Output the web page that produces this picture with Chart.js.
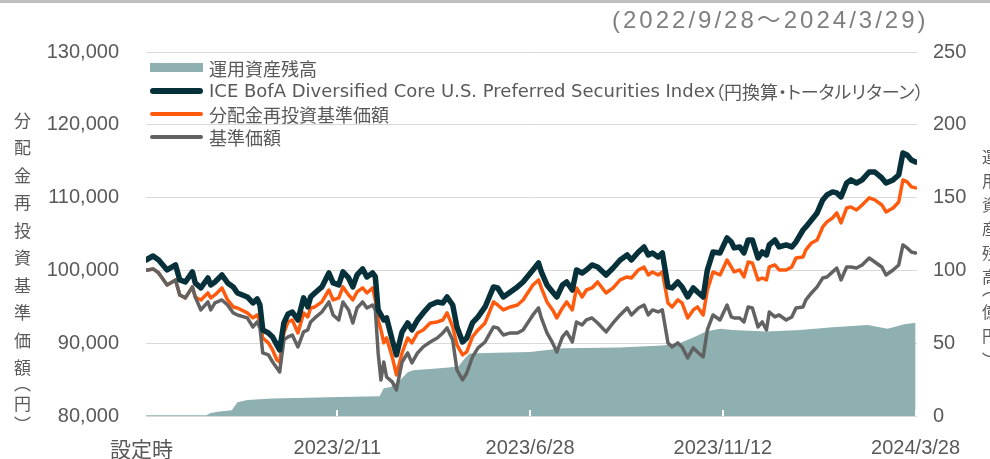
<!DOCTYPE html>
<html lang="ja">
<head>
<meta charset="utf-8">
<script src="https://cdn.jsdelivr.net/npm/chart.js@4.4.1/dist/chart.umd.min.js"></script>
<style>
  html, body { margin: 0; padding: 0; background: #fff; }
  #wrap { position: relative; width: 990px; height: 459px; overflow: hidden; color: #595959;
          font-family: "Noto Sans CJK JP", sans-serif; }
  #chart { position: absolute; left: 0; top: 0; }
  #topbar { position: absolute; left: 0; top: 0; width: 990px; height: 3px; background: #bfbfbf; }
  #period { position: absolute; left: 612px; top: 0px; font-family: "Liberation Sans", "Noto Sans CJK JP", sans-serif;
            font-size: 24px; letter-spacing: 3px; color: #7f7f7f; white-space: nowrap; }
  #start { position: absolute; left: 110px; top: 438px; font-size: 21px; line-height: 21px; color: #595959; }
  .legend { position: absolute; left: 150px; top: 56px; font-size: 18px; }
  .legend .row { display: flex; align-items: center; height: 23px; white-space: nowrap; }
  .legend .sw { width: 53px; margin-right: 6px; flex: none; }
  .legend .lat { font-family: "DejaVu Sans", sans-serif; font-size: 18px; }
  .legend .jp { font-family: "Noto Sans CJK JP", sans-serif; font-size: 18px; font-feature-settings: "palt" 1; }
  .vtitle { position: absolute; writing-mode: vertical-rl; white-space: nowrap; color: #595959; }
</style>
</head>
<body>
<div id="wrap">
  <canvas id="chart" width="990" height="459"></canvas>
  <div id="topbar"></div>
  <div id="period">(2022/9/28～2024/3/29)</div>
  <div id="start">設定時</div>

  <div class="legend">
    <div class="row"><div class="sw" style="height:9px;background:#8fb0b0"></div><span>運用資産残高</span></div>
    <div class="row"><div class="sw" style="height:6px;border-radius:3px;background:#07313a"></div><span class="lat">ICE BofA Diversified Core U.S. Preferred Securities Index</span><span class="jp">（円換算・トータルリターン）</span></div>
    <div class="row"><div class="sw" style="height:4px;border-radius:2px;background:#ff5b0f"></div><span>分配金再投資基準価額</span></div>
    <div class="row"><div class="sw" style="height:4px;border-radius:2px;background:#626262"></div><span>基準価額</span></div>
  </div>

  <div class="vtitle" style="left:10px;top:112px;font-size:17px;letter-spacing:10.5px">分配金再投資基準価額</div>
  <div class="vtitle" style="left:10px;top:383px;font-size:17px;letter-spacing:4px;font-feature-settings:'vpal' 1">（円）</div>
  <div class="vtitle" style="left:978px;top:149px;font-size:16px;letter-spacing:8px">運用資産残高</div>
  <div class="vtitle" style="left:978px;top:288px;font-size:16px;letter-spacing:8px;font-feature-settings:'vpal' 1">（億円）</div>
</div>

<script>
// x axis: days since inception (2022/9/28)
const tickDays = [0, 136, 273, 410, 547];
const tickLabels = ['', '2023/2/11', '2023/6/28', '2023/11/12', '2024/3/28']; // day 0 = 設定時 (html)
const leftTicks = [80000, 90000, 100000, 110000, 120000, 130000];
const rightTicks = [0, 50, 100, 150, 200, 250];

// price series (yen), sampled on the same days
const priceDays = [
  0, 5, 9, 15, 21, 24, 28, 33, 35, 39,
  44, 46, 49, 54, 58, 62, 65, 72, 76, 79,
  81, 83, 87, 90, 93, 95, 98, 101, 104, 108,
  112, 115, 117, 120, 125, 130, 133, 137, 140, 144,
  147, 150, 154, 157, 161, 163, 165, 167, 169, 171,
  175, 178, 182, 186, 189, 193, 197, 202, 207, 211,
  214, 218, 221, 225, 228, 232, 236, 241, 247, 250,
  254, 259, 264, 268, 275, 279, 281, 285, 289, 292,
  296, 299, 303, 306, 310, 313, 317, 321, 327, 332,
  337, 342, 345, 350, 354, 357, 360, 364, 367, 371,
  374, 378, 381, 385, 389, 392, 396, 399, 403, 408,
  413, 416, 418, 422, 425, 428, 431, 435, 438, 441,
  443, 447, 450, 455, 459, 462, 467, 469, 473, 477,
  481, 484, 488, 491, 494, 498, 501, 505, 509, 514,
  518, 523, 526, 531, 535, 538, 541, 544, 547
];

const indexValues = [
  101430, 101980, 101430, 100060, 100750, 98690, 98410, 99790, 98280, 97590,
  98960, 98000, 98410, 99370, 98280, 97730, 96900, 96350, 95530, 96080,
  95250, 91820, 91410, 90860, 89760, 89070, 92780, 94020, 94290, 93190,
  96220, 94980, 96350, 96900, 97730, 99650, 98280, 98000, 99790, 98960,
  97730, 99370, 100200, 99100, 99650, 99100, 94570, 93880, 93190, 93470,
  90450, 88390, 91550, 92780, 91820, 93190, 94160, 95250, 95670, 95530,
  96350, 95250, 92230, 90170, 90720, 92780, 93610, 94980, 97730, 97590,
  96350, 97040, 97730, 98410, 100060, 101020, 99790, 98000, 97040, 96350,
  98000, 98410, 97310, 100060, 99650, 100060, 100750, 100470, 99370, 100330,
  101430, 102120, 101430, 102530, 103220, 102120, 102400, 101850, 102400, 97730,
  97590, 98410, 97730, 96350, 97590, 97040, 96350, 100060, 102530, 102400,
  104460, 103910, 103090, 103220, 102400, 104180, 104180, 101710, 102530, 102120,
  103500, 104180, 103220, 103500, 103220, 103910, 105550, 105970, 106930, 107890,
  109680, 110370, 110780, 110640, 110100, 112010, 112430, 112010, 112430, 113520,
  113520, 112700, 112010, 112430, 113110, 116130, 115860, 115170, 114900
];

const reinvestValues = [
  100000, 100200, 99650, 98000, 98690, 96630, 96220, 97730, 96350, 95940,
  96900, 96220, 96630, 97590, 95940, 94980, 94840, 94160, 93470, 93880,
  92920, 90720, 90040, 89070, 87700, 87420, 91410, 92920, 93190, 91410,
  94160, 93610, 94840, 94980, 95670, 97310, 95940, 96220, 97730, 96630,
  95940, 97040, 97590, 96900, 97590, 95940, 93190, 91820, 90040, 90720,
  88110, 85640, 88660, 90720, 90040, 91410, 91820, 92780, 92920, 93190,
  94160, 92230, 89760, 88390, 88800, 90860, 91820, 92780, 95670, 95250,
  94570, 94980, 95250, 95940, 98000, 98690, 97590, 95670, 94570, 93470,
  94840, 95670, 94570, 97590, 96350, 97310, 97590, 98410, 96900, 97590,
  98690, 99100, 98960, 100060, 100470, 99370, 99790, 99370, 99790, 95530,
  94980, 95940, 95530, 93470, 94570, 94980, 93880, 97310, 99790, 99370,
  101430, 100470, 99790, 100060, 99100, 101160, 101020, 98690, 98960, 98690,
  100470, 100750, 100060, 100060, 100470, 101710, 101850, 102810, 103770, 104180,
  105970, 106660, 107210, 107890, 106520, 108580, 108720, 108300, 108990, 109960,
  109680, 108990, 108030, 108580, 109400, 112430, 112150, 111470, 111330
];

const navValues = [
  100000, 100200, 99650, 98000, 98690, 96630, 96220, 97730, 96350, 94570,
  95670, 94570, 95530, 95940, 95250, 94160, 93880, 93470, 92230, 92920,
  92100, 88660, 88390, 87420, 86600, 86050, 90450, 90860, 91130, 89490,
  91550, 91820, 92920, 93470, 94290, 95670, 93880, 93190, 95670, 94570,
  92780, 94840, 95670, 94840, 95250, 94570, 88660, 84950, 87420, 85360,
  84680, 83580, 87420, 88660, 87290, 88660, 89490, 90170, 90720, 91410,
  92100, 90450, 86320, 84950, 85910, 88110, 89350, 90170, 92230, 92100,
  91130, 91410, 91410, 91820, 93880, 94840, 93470, 91410, 90040, 88800,
  90860, 91550, 90170, 92920, 92510, 93190, 93470, 92780, 91550, 92780,
  93880, 94840, 93880, 94840, 95250, 93880, 94570, 94290, 94570, 90040,
  89490, 90040, 89490, 87980, 89350, 88800, 88110, 91820, 93880, 93190,
  95250, 93610, 93470, 93470, 92920, 94980, 94840, 92230, 92920, 91820,
  94290, 93610, 93880, 93190, 93610, 94840, 94980, 95940, 96900, 97730,
  98960, 99100, 99790, 100330, 98690, 100470, 100470, 100330, 100750, 101710,
  101160, 100470, 99370, 100060, 100750, 103500, 103090, 102530, 102400
];

// net assets (100 million yen)
const aumDays = [0, 43, 46, 51, 61, 65, 72, 90, 138, 166, 169, 174, 181, 186, 190, 211, 222, 227,
                 230, 249, 273, 296, 337, 367, 379, 389, 398, 408, 417, 441, 465, 488, 513, 527, 539, 547];
const aumValues = [0.5, 0.5, 2, 3, 4, 9.5, 11, 12, 13, 13.5, 19, 20, 25, 30, 31.5, 33, 34, 40,
                   43, 43.5, 44, 46.5, 47, 48.5, 50, 54, 58, 60, 59, 58, 59, 61, 62.5, 60, 63, 64];

const pts = (days, vals) => days.map((d, i) => ({ x: d, y: vals[i] }));

const tickFont = { family: '"Liberation Sans", "Noto Sans CJK JP", sans-serif', size: 20 };
const tickColor = '#595959';

// small white tick marks at the bottom of the plot
const innerTicks = {
  id: 'innerTicks',
  afterDatasetsDraw(chart) {
    const { ctx, chartArea, scales } = chart;
    ctx.save();
    ctx.strokeStyle = '#ffffff';
    ctx.lineWidth = 2;
    tickDays.slice(1).forEach(d => {
      const px = Math.round(scales.x.getPixelForValue(d));
      ctx.beginPath();
      ctx.moveTo(px, chartArea.bottom);
      ctx.lineTo(px, chartArea.bottom - 6);
      ctx.stroke();
    });
    ctx.restore();
  }
};

new Chart(document.getElementById('chart').getContext('2d'), {
  type: 'line',
  data: {
    datasets: [
      {
        label: 'ICE BofA Diversified Core U.S. Preferred Securities Index（円換算・トータルリターン）',
        data: pts(priceDays, indexValues),
        borderColor: '#07313a',
        borderWidth: 5.5,
        yAxisID: 'y',
        order: 0
      },
      {
        label: '基準価額',
        data: pts(priceDays, navValues),
        borderColor: '#626262',
        borderWidth: 3.5,
        yAxisID: 'y',
        order: 1
      },
      {
        label: '分配金再投資基準価額',
        data: pts(priceDays, reinvestValues),
        borderColor: '#ff5b0f',
        borderWidth: 3.5,
        yAxisID: 'y',
        order: 2
      },
      {
        label: '運用資産残高',
        data: pts(aumDays, aumValues),
        borderWidth: 0,
        backgroundColor: '#8fb0b0',
        fill: 'origin',
        yAxisID: 'y2',
        order: 3
      }
    ]
  },
  options: {
    responsive: false,
    animation: false,
    layout: { padding: { top: 52, right: 0, bottom: 0, left: 0 } },
    plugins: { legend: { display: false }, tooltip: { enabled: false } },
    elements: {
      point: { radius: 0 },
      line: { tension: 0, borderJoinStyle: 'round', borderCapStyle: 'round' }
    },
    scales: {
      x: {
        type: 'linear',
        min: 0,
        max: 548,
        grid: { display: false },
        border: { display: false },
        afterBuildTicks: s => { s.ticks = tickDays.map(v => ({ value: v })); },
        afterFit: s => { s.height = 43; },
        ticks: {
          autoSkip: false,
          maxRotation: 0,
          padding: 12,
          color: tickColor,
          font: tickFont,
          callback: v => tickLabels[tickDays.indexOf(v)]
        }
      },
      y: {
        position: 'left',
        min: 80000,
        max: 130000,
        afterBuildTicks: s => { s.ticks = leftTicks.map(v => ({ value: v })); },
        afterFit: s => { s.width = 146; },
        grid: { color: '#d9d9d9', lineWidth: 1, drawTicks: false },
        border: { display: false },
        ticks: {
          padding: 27,
          color: tickColor,
          font: tickFont,
          callback: v => v.toLocaleString('en-US')
        }
      },
      y2: {
        position: 'right',
        min: 0,
        max: 250,
        afterBuildTicks: s => { s.ticks = rightTicks.map(v => ({ value: v })); },
        afterFit: s => { s.width = 73; },
        grid: { display: false, drawTicks: false },
        border: { display: false },
        ticks: { padding: 16, color: tickColor, font: tickFont }
      }
    }
  },
  plugins: [innerTicks]
});
</script>
</body>
</html>
